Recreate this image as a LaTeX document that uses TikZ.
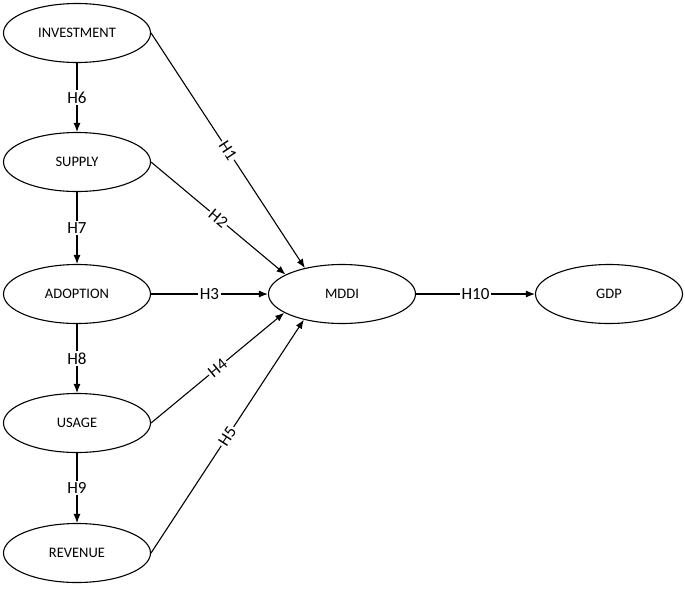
\documentclass[tikz,border=0pt]{standalone}
\usepackage{fontspec}
\setmainfont{Carlito}
\usetikzlibrary{arrows.meta,shapes.geometric}
\begin{document}
\begin{tikzpicture}[x=1pt,y=-1pt,
  construct/.style={ellipse,draw,line width=1.1pt,minimum width=147pt,minimum height=59pt,inner sep=0pt,font=\fontsize{14.5}{16}\selectfont},
  link/.style={line width=1.1pt,-{Latex[length=9pt,width=7pt]}},
  hlab/.style={fill=white,inner sep=1.5pt,font=\fontsize{17}{19}\selectfont}]
\useasboundingbox (0,0) rectangle (685,592);
\node[construct] (inv) at (77,33) {INVESTMENT};
\node[construct] (sup) at (77,162) {SUPPLY};
\node[construct] (ado) at (77,294) {ADOPTION};
\node[construct] (usa) at (77,423) {USAGE};
\node[construct] (rev) at (77,553) {REVENUE};
\node[construct] (mddi) at (342,294) {MDDI};
\node[construct] (gdp) at (609,294) {GDP};
\draw[link] (inv.south) -- node[hlab] {H6} (sup.north);
\draw[link] (sup.south) -- node[hlab] {H7} (ado.north);
\draw[link] (ado.south) -- node[hlab] {H8} (usa.north);
\draw[link] (usa.south) -- node[hlab] {H9} (rev.north);
\draw[link] (inv.east) -- node[hlab,sloped] {H1} (mddi.145);
\draw[link] (sup.east) -- node[hlab,sloped] {H2} (mddi.161);
\draw[link] (ado.east) -- node[hlab] {H3} (mddi.west);
\draw[link] (usa.east) -- node[hlab,sloped] {H4} (mddi.198);
\draw[link] (rev.east) -- node[hlab,sloped] {H5} (mddi.214);
\draw[link] (mddi.east) -- node[hlab] {H10} (gdp.west);
\end{tikzpicture}
\end{document}
